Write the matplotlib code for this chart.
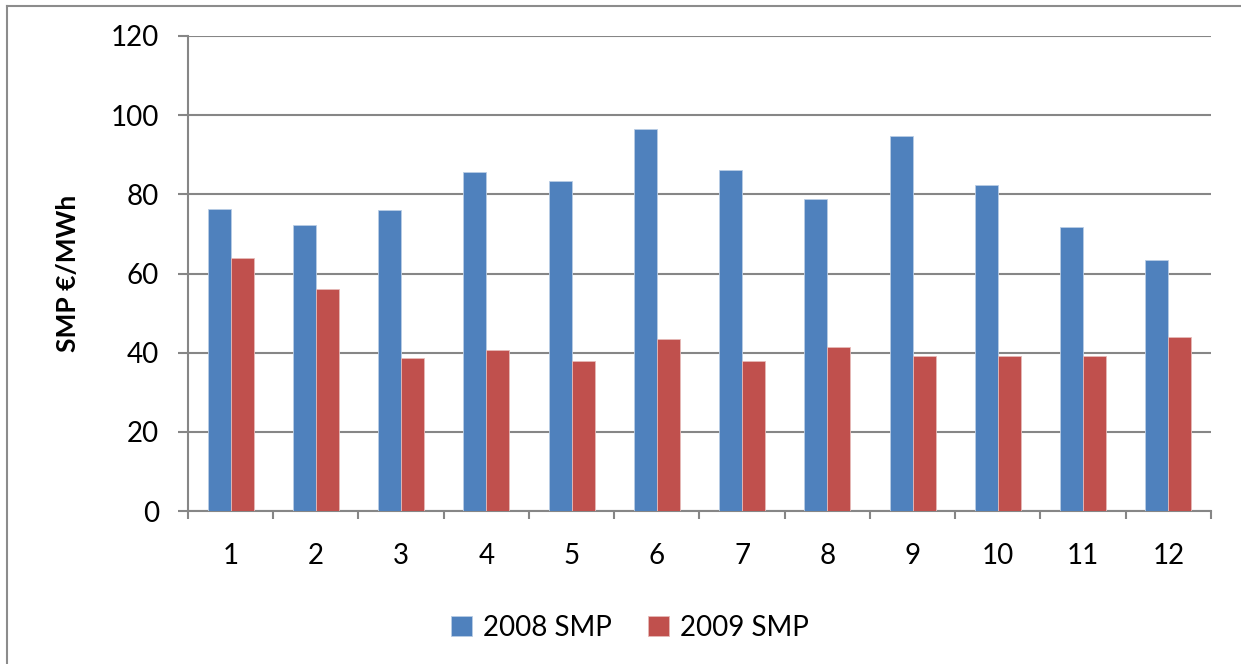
import matplotlib
matplotlib.use("Agg")
import matplotlib.pyplot as plt
from matplotlib.lines import Line2D
import numpy as np

months = ["1", "2", "3", "4", "5", "6", "7", "8", "9", "10", "11", "12"]
smp_2008 = [76.4, 72.2, 76.0, 85.6, 83.3, 96.5, 86.2, 78.7, 94.7, 82.4, 71.7, 63.5]
smp_2009 = [63.9, 56.0, 38.7, 40.6, 37.8, 43.4, 37.8, 41.5, 39.2, 39.2, 39.2, 43.9]
series_labels = ["2008 SMP", "2009 SMP"]
y_ticks = [0, 20, 40, 60, 80, 100, 120]

plt.rcParams['font.family'] = ['Lato', 'DejaVu Sans']

W, H = 1241, 664
fig = plt.figure(figsize=(W / 100, H / 100), dpi=100)
ax = fig.add_axes([188 / W, 1 - 511 / H, (1211 - 188) / W, (511 - 36) / H])

x = np.arange(len(months))
bw = 0.27
blue = "#4F81BD"
red = "#C0504D"
ax.bar(x - bw / 2, smp_2008, bw, color=blue, edgecolor="#B9CDE5", linewidth=0.6,
       label=series_labels[0], zorder=3)
ax.bar(x + bw / 2, smp_2009, bw, color=red, edgecolor="#E6B9B8", linewidth=0.6,
       label=series_labels[1], zorder=3)

ax.set_xlim(-0.5, len(months) - 0.5)
ax.set_ylim(0, 120)
ax.set_yticks(y_ticks)
ax.set_yticklabels([str(v) for v in y_ticks])
ax.set_xticks(x)
ax.set_xticklabels(months)
ax.set_xticks(np.arange(-0.5, len(months), 1.0), minor=True)

gc = "#868686"
ax.yaxis.grid(True, color=gc, linewidth=1.5, zorder=0)
ax.set_axisbelow(True)
for s in ["top", "right"]:
    ax.spines[s].set_visible(False)
for s in ["left", "bottom"]:
    ax.spines[s].set_color(gc)
    ax.spines[s].set_linewidth(1.5)

ax.tick_params(axis='y', direction='out', length=7, width=1.5, color=gc,
               labelsize=20, pad=14)
ax.tick_params(axis='x', which='major', length=0, labelsize=20, pad=23)
ax.tick_params(axis='x', which='minor', direction='out', length=6, width=1.5, color=gc)

ax.set_ylabel("SMP €/MWh", fontsize=19, fontweight='bold', labelpad=22)

fig.legend(loc='center', bbox_to_anchor=(630 / W, 1 - 628 / H), ncol=2,
           frameon=False, fontsize=20, handlelength=0.75, handleheight=0.75,
           handletextpad=0.4, columnspacing=1.3)

# chart-area border (top and left visible)
fig.add_artist(Line2D([7 / W, 7 / W], [0, 1 - 6 / H], transform=fig.transFigure,
                      color="#8C8C8C", linewidth=1.5))
fig.add_artist(Line2D([7 / W, 1], [1 - 6 / H, 1 - 6 / H], transform=fig.transFigure,
                      color="#8C8C8C", linewidth=1.5))

fig.savefig("out.png", dpi=100, facecolor="white")
